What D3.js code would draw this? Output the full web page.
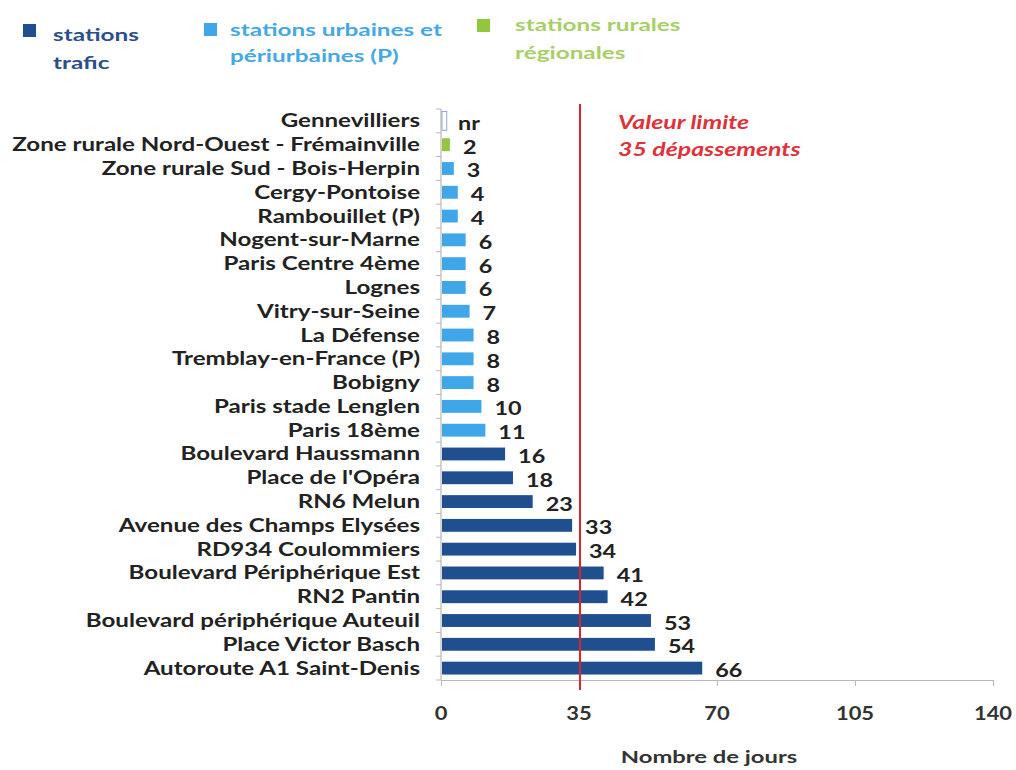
<!DOCTYPE html>
<html><head><meta charset="utf-8">
<script src="https://cdn.jsdelivr.net/npm/d3@7"></script>
<style>body{margin:0;background:#fff}svg{display:block}</style>
</head><body>
<svg id="c" width="1016" height="770"></svg>
<script>
const categories = ["Gennevilliers","Zone rurale Nord-Ouest - Frémainville","Zone rurale Sud - Bois-Herpin","Cergy-Pontoise","Rambouillet (P)","Nogent-sur-Marne","Paris Centre 4ème","Lognes","Vitry-sur-Seine","La Défense","Tremblay-en-France (P)","Bobigny","Paris stade Lenglen","Paris 18ème","Boulevard Haussmann","Place de l'Opéra","RN6 Melun","Avenue des Champs Elysées","RD934 Coulommiers","Boulevard Périphérique Est","RN2 Pantin","Boulevard périphérique Auteuil","Place Victor Basch","Autoroute A1 Saint-Denis"];
const values = [null,2,3,4,4,6,6,6,7,8,8,8,10,11,16,18,23,33,34,41,42,53,54,66];
const types = ["urbain","rural","urbain","urbain","urbain","urbain","urbain","urbain","urbain","urbain","urbain","urbain","urbain","urbain","trafic","trafic","trafic","trafic","trafic","trafic","trafic","trafic","trafic","trafic"];
const seriesNames = ["trafic","urbain","rural"];
const legendLabels = [["stations","trafic"],["stations urbaines et","périurbaines (P)"],["stations rurales","régionales"]];
const xTicks = [0,35,70,105,140];
const limitValue = 35;
const limitLabel = ["Valeur limite","35 dépassements"];
const xTitle = "Nombre de jours";

const colors = {trafic:"#1f4f8f", urbain:"#3fa6e8", rural:"#93c63f"};
const textColors = {trafic:"#2b4f88", urbain:"#45a8e6", rural:"#a8cf66"};
const font = "Lato, 'Open Sans', sans-serif";

const svg = d3.select("#c");
const m = {l:441, r:993, t:109, b:680};
const x = d3.scaleLinear().domain([0,140]).range([m.l,m.r]);
const y = d3.scaleBand().domain(categories).range([m.t,m.b]).paddingInner(0.46).paddingOuter(0.23);

function stext(parent, tx, ty, sx, str, opts){
  const g = parent.append("g").attr("transform",`translate(${tx},${ty}) scale(${sx},1)`);
  const t = g.append("text").attr("x",0).attr("y",0).attr("font-family",font)
    .attr("font-size",opts.size).attr("font-weight",opts.weight||700).attr("fill",opts.fill||"#222")
    .attr("text-anchor",opts.anchor||"start").text(str);
  if(opts.italic) t.attr("font-style","italic");
  return t;
}

// legend
const legSq = [[23,24],[204,23],[477,19]];
const legTX = [53,230,515];
const legBase = [[41,69],[36,62],[31,59]];
seriesNames.forEach((s,i)=>{
  svg.append("rect").attr("x",legSq[i][0]).attr("y",legSq[i][1]).attr("width",13).attr("height",13).attr("fill",colors[s]);
  legendLabels[i].forEach((ln,j)=>stext(svg,legTX[i],legBase[i][j],1.43,ln,{size:17,weight:700,fill:textColors[s]}));
});

// y axis
svg.append("line").attr("x1",m.l).attr("x2",m.l).attr("y1",m.t).attr("y2",m.b).attr("stroke","#b8b8b8").attr("stroke-width",1.2);
d3.range(categories.length+1).forEach(i=>{
  const yy = m.t + i*(m.b-m.t)/categories.length;
  svg.append("line").attr("x1",m.l-5).attr("x2",m.l).attr("y1",yy).attr("y2",yy).attr("stroke","#b8b8b8");
});

// x axis
const xg = svg.append("g").attr("transform",`translate(0,${m.b})`)
  .call(d3.axisBottom(x).tickValues(xTicks).tickSize(6).tickSizeOuter(0).tickFormat(""));
xg.select(".domain").attr("stroke","#b8b8b8").attr("stroke-width",1.2);
xg.selectAll(".tick line").attr("stroke","#b8b8b8");
xTicks.forEach(v=>stext(svg,x(v),720,1.22,String(v),{size:18,weight:700,fill:"#333",anchor:"middle"}));

stext(svg,709,763,1.4,xTitle,{size:17,weight:700,fill:"#333",anchor:"middle"});

// category labels
categories.forEach(c=>stext(svg,m.l-21,y(c)+y.bandwidth()/2+6.5,1.34,c,{size:18,weight:700,fill:"#222",anchor:"end"}));

// bars
const data = categories.map((c,i)=>({c,v:values[i],t:types[i]}));
svg.append("g").selectAll("rect").data(data.filter(d=>d.v!=null)).join("rect")
  .attr("x",x(0)+1).attr("y",d=>y(d.c)).attr("width",d=>x(d.v)-x(0)).attr("height",y.bandwidth())
  .attr("fill",d=>colors[d.t]);
data.filter(d=>d.v==null).forEach(d=>{
  svg.append("rect").attr("x",x(0)+1).attr("y",y(d.c)-3).attr("width",x(1.2)-x(0)).attr("height",y.bandwidth()+6)
    .attr("fill","none").attr("stroke","#8fa8e0").attr("stroke-width",1);
});

// value labels
data.forEach(d=>stext(svg,x(d.v==null?0:d.v)+(d.v==null?17:14),y(d.c)+y.bandwidth()/2+9,1.3,
  d.v==null?"nr":String(d.v),{size:18,weight:700,fill:"#222"}));

// limit line
svg.append("line").attr("x1",x(limitValue)+1).attr("x2",x(limitValue)+1).attr("y1",104).attr("y2",690)
  .attr("stroke","#d9262b").attr("stroke-width",2);
limitLabel.forEach((ln,j)=>stext(svg,618,129+j*27,1.38,ln,{size:18,weight:700,fill:"#e0323a",italic:true}));
</script>
</body></html>
